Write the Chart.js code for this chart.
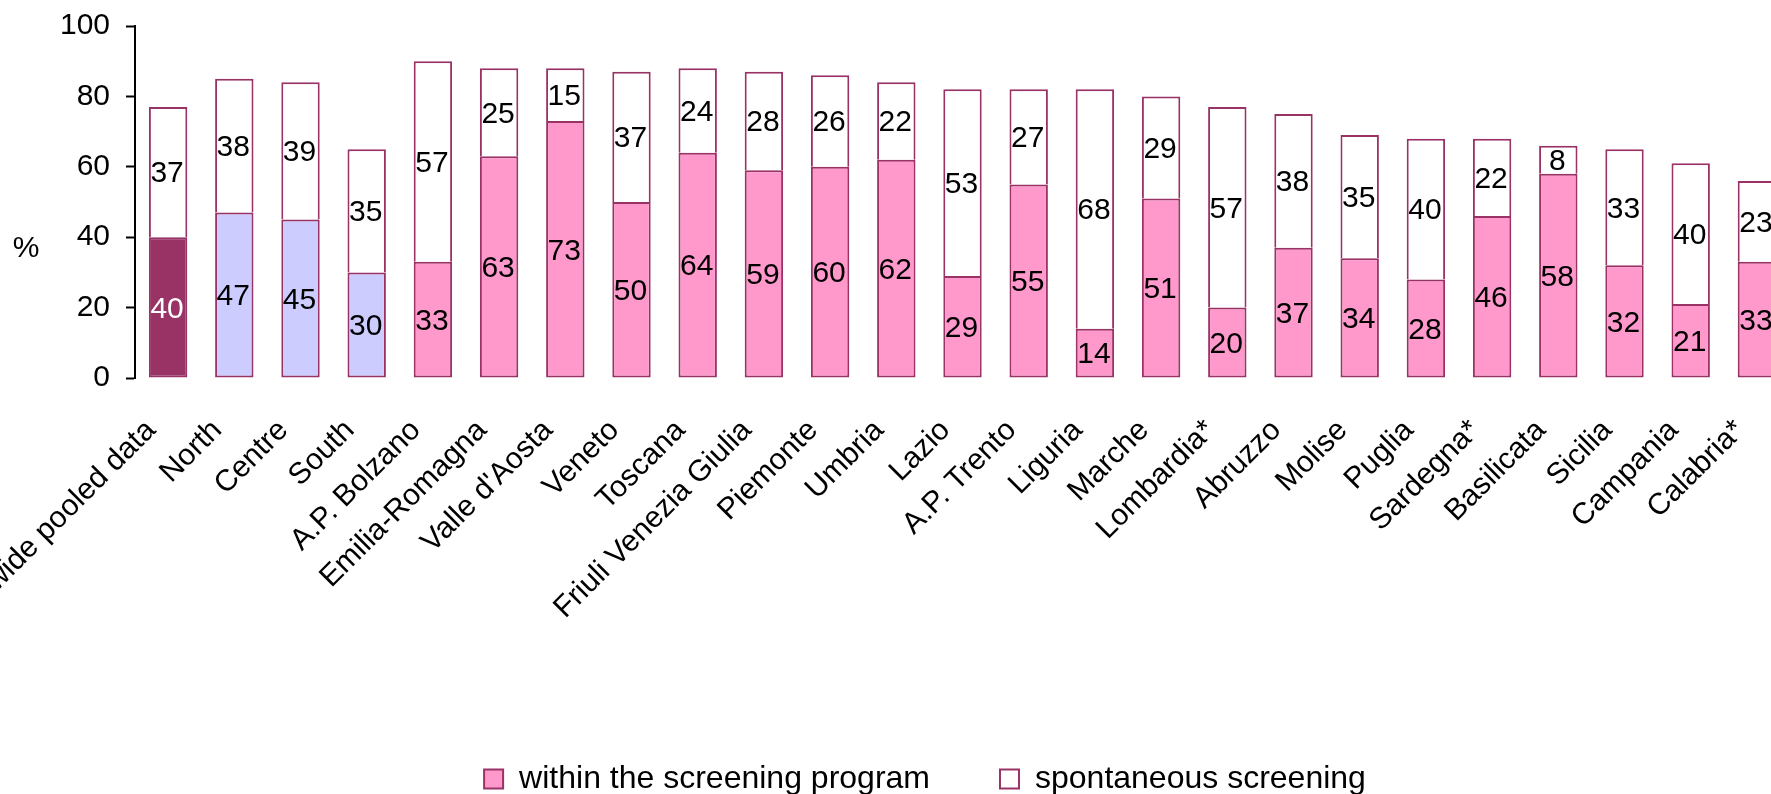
<!DOCTYPE html>
<html>
<head>
<meta charset="utf-8">
<title>Screening coverage by region</title>
<script src="https://cdn.jsdelivr.net/npm/chart.js@4.4.1/dist/chart.umd.min.js"></script>
<style>
  html, body {
    margin: 0;
    padding: 0;
    background: #fff;
    overflow: hidden;
    width: 1771px;
    height: 794px;
  }
  canvas { display: block; }
</style>
</head>
<body>
<canvas id="screeningChart" width="1850" height="805"></canvas>
<script>
const areas = [
  'Nation-wide pooled data', 'North', 'Centre', 'South', 'A.P. Bolzano',
  'Emilia-Romagna', "Valle d'Aosta", 'Veneto', 'Toscana', 'Friuli Venezia Giulia',
  'Piemonte', 'Umbria', 'Lazio', 'A.P. Trento', 'Liguria', 'Marche',
  'Lombardia*', 'Abruzzo', 'Molise', 'Puglia', 'Sardegna*', 'Basilicata',
  'Sicilia', 'Campania', 'Calabria*'
];

const withinProgram = [40, 47, 45, 30, 33, 63, 73, 50, 64, 59, 60, 62, 29, 55, 14, 51, 20, 37, 34, 28, 46, 58, 32, 21, 33];
const spontaneous   = [37, 38, 39, 35, 57, 25, 15, 37, 24, 28, 26, 22, 53, 27, 68, 29, 57, 38, 35, 40, 22, 8, 33, 40, 23];

const yTicks = [0, 20, 40, 60, 80, 100];

const PLUM = '#993366';
const LILAC = '#CCCCFF';
const PINK = '#FF99CC';
const FONT = "'Liberation Sans', Arial, sans-serif";

// pooled bar is dark, macro-areas lilac, single regions pink
const withinColors = areas.map((a, i) => i === 0 ? PLUM : (i <= 3 ? LILAC : PINK));

// numbers written in the middle of every segment
const segmentLabels = {
  id: 'segmentLabels',
  afterDatasetsDraw(chart) {
    const ctx = chart.ctx;
    ctx.save();
    ctx.font = '30px ' + FONT;
    ctx.textAlign = 'center';
    ctx.textBaseline = 'middle';
    chart.data.datasets.forEach((ds, di) => {
      chart.getDatasetMeta(di).data.forEach((bar, i) => {
        const { x, y, base } = bar.getProps(['x', 'y', 'base'], true);
        ctx.fillStyle = (di === 0 && i === 0) ? '#fff' : '#000';
        ctx.fillText(String(ds.data[i]), x - 1, (y + base) / 2 + 2);
      });
    });
    ctx.restore();
  }
};

// upright "%" beside the value axis
const percentTitle = {
  id: 'percentTitle',
  afterDraw(chart) {
    const ctx = chart.ctx;
    const area = chart.chartArea;
    ctx.save();
    ctx.font = '30px ' + FONT;
    ctx.fillStyle = '#000';
    ctx.textAlign = 'center';
    ctx.textBaseline = 'middle';
    ctx.fillText('%', 26, (area.top + area.bottom) / 2 + 47);
    ctx.restore();
  }
};

const ctx = document.getElementById('screeningChart').getContext('2d');
new Chart(ctx, {
  type: 'bar',
  data: {
    labels: areas,
    datasets: [
      {
        label: 'within the screening program',
        data: withinProgram,
        backgroundColor: withinColors,
        borderColor: PLUM,
        borderWidth: 2,
        borderSkipped: false,
        barPercentage: 0.58,
        categoryPercentage: 1
      },
      {
        label: 'spontaneous screening',
        data: spontaneous,
        backgroundColor: '#fff',
        borderColor: PLUM,
        borderWidth: 2,
        borderSkipped: 'bottom',
        barPercentage: 0.58,
        categoryPercentage: 1
      }
    ]
  },
  options: {
    responsive: false,
    animation: false,
    events: [],
    layout: { padding: 0 },
    scales: {
      x: {
        stacked: true,
        grid: { display: false },
        border: { display: false },
        ticks: {
          color: '#000',
          font: { family: FONT, size: 30 },
          autoSkip: false,
          minRotation: 45,
          maxRotation: 45,
          padding: 27,
          labelOffset: -17
        },
        afterFit(scale) {
          scale.height = 315;
          scale.paddingLeft = 0;
          scale.paddingRight = 60;
        }
      },
      y: {
        stacked: true,
        min: 0,
        max: 100,
        afterBuildTicks(scale) {
          scale.ticks = yTicks.map(v => ({ value: v }));
        },
        grid: {
          drawOnChartArea: false,
          drawTicks: true,
          tickLength: 9,
          tickWidth: 2,
          tickColor: '#000'
        },
        border: { display: true, color: '#000', width: 2 },
        ticks: {
          color: '#000',
          font: { family: FONT, size: 30 },
          padding: 16
        },
        afterFit(scale) {
          scale.width = 135;
          scale.paddingTop = 26;
        }
      }
    },
    plugins: {
      tooltip: { enabled: false },
      legend: {
        position: 'bottom',
        labels: {
          color: '#000',
          font: { family: FONT, size: 32 },
          boxWidth: 19,
          boxHeight: 19,
          padding: 70,
          generateLabels(chart) {
            return chart.data.datasets.map((ds, i) => ({
              text: ds.label,
              fillStyle: i === 0 ? PINK : '#fff',
              strokeStyle: PLUM,
              lineWidth: 2,
              datasetIndex: i,
              hidden: false
            }));
          }
        }
      }
    }
  },
  plugins: [segmentLabels, percentTitle]
});
</script>
</body>
</html>
